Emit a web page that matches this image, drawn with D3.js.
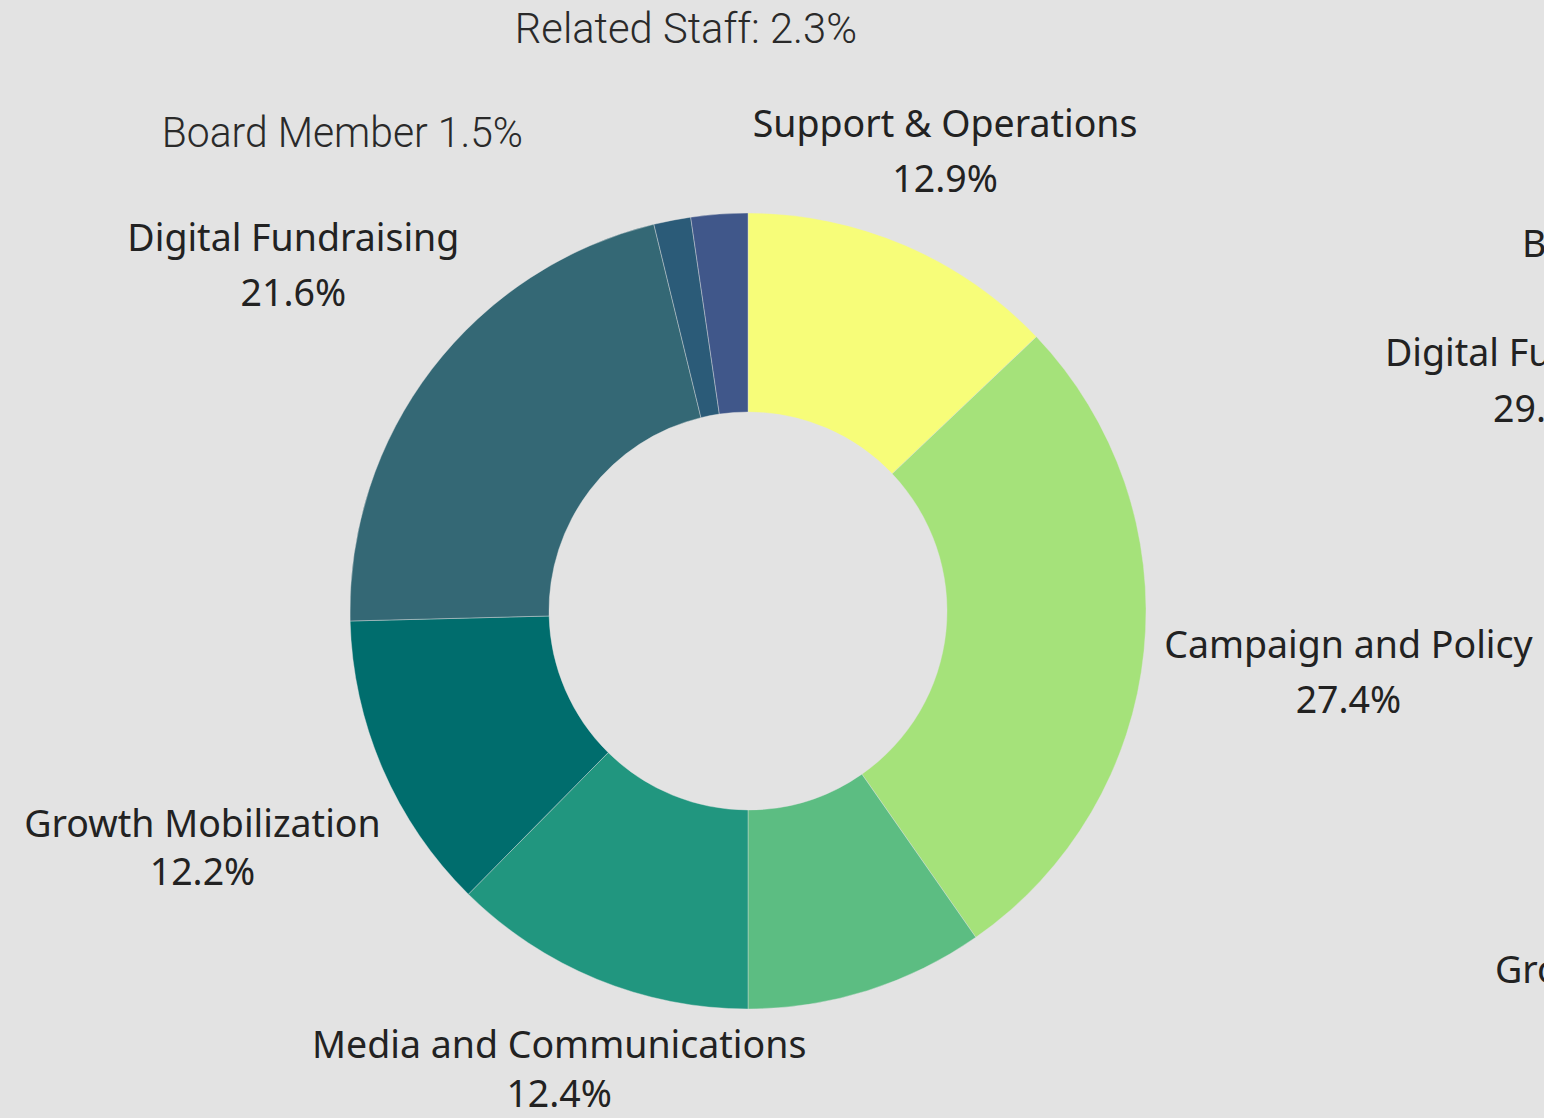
<!DOCTYPE html>
<html>
<head>
<meta charset="utf-8">
<script src="https://cdn.jsdelivr.net/npm/d3@7"></script>
<style>
  html, body { margin: 0; padding: 0; background: #e3e3e3; overflow: hidden; }
  svg { display: block; }
  .main-label { font-family: 'Noto Sans', 'Open Sans', sans-serif; font-size: 37.5px; fill: #222; }
  .narrow-label { font-family: Roboto, 'Liberation Sans', sans-serif; font-weight: 300; font-size: 43px; fill: #2a2a2a; }
</style>
</head>
<body>
<div id="chart"></div>
<script>
// slices, clockwise from 12 o'clock
const categories = [
  'Support & Operations',
  'Campaign and Policy',
  'Other',
  'Media and Communications',
  'Growth Mobilization',
  'Digital Fundraising',
  'Board Member',
  'Related Staff'
];
const shares = [12.9, 27.4, 9.7, 12.4, 12.2, 21.6, 1.5, 2.3];
const colors = ['#f7fd79', '#a5e27a', '#5cbd82', '#21967f', '#006d6d', '#346875', '#2b5b78', '#40578a'];

// how each label is written (null = no label)
const labelText = [
  ['Support & Operations', '12.9%'],
  ['Campaign and Policy', '27.4%'],
  null,
  ['Media and Communications', '12.4%'],
  ['Growth Mobilization', '12.2%'],
  ['Digital Fundraising', '21.6%'],
  ['Board Member 1.5%'],
  ['Related Staff: 2.3%']
];

// labels of the neighbouring chart, cut by the right edge
const neighbourLabels = [
  ['Board Member'],
  ['Digital Fundraising'],
  ['29.'],
  ['Growth Mobilization']
];

const width = 1544;
const height = 1118;
const cx = 748, cy = 611;
const outerR = 398, innerR = 199;

// label placement: radius from centre, angle nudge (deg), line gap, style
const labelLayout = [
  { r: 488, da: 0.6, gap: 55, cls: 'main-label' },
  { r: 605, da: 1.3, gap: 55, cls: 'main-label' },
  null,
  { r: 508, da: -0.5, gap: 49, cls: 'main-label' },
  { r: 600, da: -1.2, gap: 48, cls: 'main-label' },
  { r: 563, da: -1.3, gap: 55, cls: 'main-label' },
  { r: 616, da: -30.2, gap: 0, cls: 'narrow-label', sx: 0.95 },
  { r: 571, da: -2.1, gap: 0, cls: 'narrow-label', sx: 0.97 }
];
const neighbourLayout = [
  { x: 1522, y: 257 },
  { x: 1385, y: 366 },
  { x: 1493, y: 422 },
  { x: 1495, y: 983 }
];

const svg = d3
  .select('#chart')
  .append('svg')
  .attr('width', width)
  .attr('height', height);

svg.append('rect')
  .attr('width', width)
  .attr('height', height)
  .attr('fill', '#e3e3e3');

const pie = d3.pie().sort(null).value((d) => d);
const arcs = pie(shares);
const arc = d3.arc().innerRadius(innerR).outerRadius(outerR);

const g = svg.append('g').attr('transform', `translate(${cx},${cy})`);

g.selectAll('.slice')
  .data(arcs)
  .enter()
  .append('path')
  .attr('class', 'slice')
  .attr('d', arc)
  .attr('fill', (d, i) => colors[i])
  .attr('stroke', 'rgba(227,227,227,0.5)')
  .attr('stroke-width', 0.8);

// slice labels
arcs.forEach((a, i) => {
  const lay = labelLayout[i];
  const lines = labelText[i];
  if (!lay || !lines) return;
  const ang = (a.startAngle + a.endAngle) / 2 + (lay.da * Math.PI) / 180;
  const x = Math.sin(ang) * lay.r;
  const y = -Math.cos(ang) * lay.r;
  const y0 = y - (lay.gap * (lines.length - 1)) / 2;
  const t = g.append('g')
    .attr('transform', `translate(${x},${y0}) scale(${lay.sx || 1},1)`)
    .append('text')
    .attr('class', lay.cls)
    .attr('text-anchor', 'middle');
  lines.forEach((ln, k) => {
    t.append('tspan')
      .attr('x', 0)
      .attr('y', k * lay.gap)
      .text(ln);
  });
});

// cut-off labels from the next chart
neighbourLabels.forEach((lines, i) => {
  const lay = neighbourLayout[i];
  svg.append('text')
    .attr('class', 'main-label')
    .attr('x', lay.x)
    .attr('y', lay.y)
    .text(lines[0]);
});
</script>
</body>
</html>
